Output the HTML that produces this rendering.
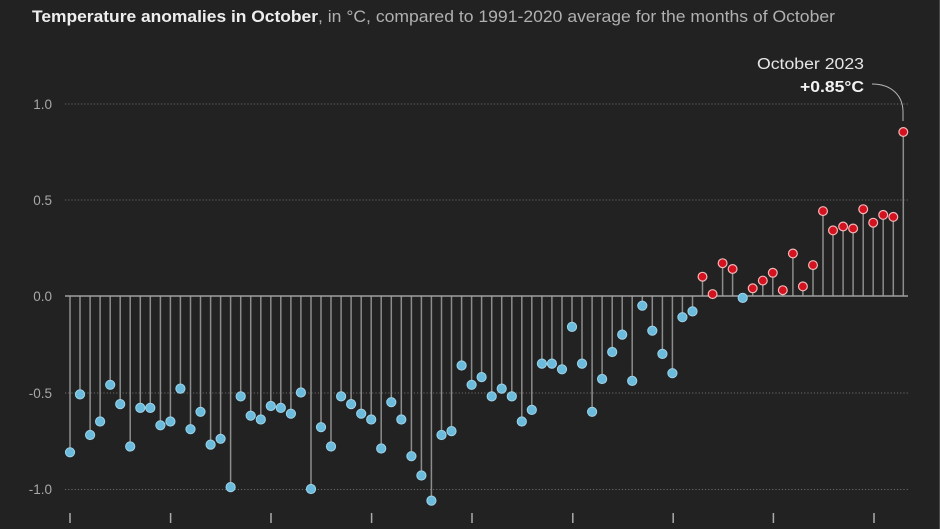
<!DOCTYPE html>
<html><head><meta charset="utf-8"><style>
html,body{margin:0;padding:0;background:#222222;}
svg{display:block;}
text{font-family:"Liberation Sans",sans-serif;}
</style></head><body>
<svg width="940" height="529" viewBox="0 0 940 529" xmlns="http://www.w3.org/2000/svg">
<defs>
<path id="bd" d="M70 452.3h0.01M80 394.4h0.01M90.1 435h0.01M100.1 421.5h0.01M110.2 384.8h0.01M120.2 404.1h0.01M130.2 446.5h0.01M140.3 407.9h0.01M150.3 407.9h0.01M160.4 425.3h0.01M170.4 421.5h0.01M180.4 388.6h0.01M190.5 429.2h0.01M200.5 411.8h0.01M210.6 444.6h0.01M220.6 438.8h0.01M230.6 487.1h0.01M240.7 396.4h0.01M250.7 415.7h0.01M260.8 419.5h0.01M270.8 406h0.01M280.8 407.9h0.01M290.9 413.7h0.01M300.9 392.5h0.01M311 489h0.01M321 427.2h0.01M331 446.5h0.01M341.1 396.4h0.01M351.1 404.1h0.01M361.2 413.7h0.01M371.2 419.5h0.01M381.2 448.5h0.01M391.3 402.2h0.01M401.3 419.5h0.01M411.4 456.2h0.01M421.4 475.5h0.01M431.4 500.6h0.01M441.5 435h0.01M451.5 431.1h0.01M461.6 365.5h0.01M471.6 384.8h0.01M481.6 377.1h0.01M491.7 396.4h0.01M501.7 388.6h0.01M511.8 396.4h0.01M521.8 421.5h0.01M531.8 409.9h0.01M541.9 363.6h0.01M551.9 363.6h0.01M562 369.3h0.01M572 326.9h0.01M582 363.6h0.01M592.1 411.8h0.01M602.1 379h0.01M612.2 352h0.01M622.2 334.6h0.01M632.2 380.9h0.01M642.3 305.7h0.01M652.3 330.7h0.01M662.4 353.9h0.01M672.4 373.2h0.01M682.4 317.2h0.01M692.5 311.4h0.01M742.7 297.9h0.01"/>
<path id="rd" d="M702.5 276.7h0.01M712.6 294.1h0.01M722.6 263.2h0.01M732.6 269h0.01M752.7 288.3h0.01M762.8 280.6h0.01M772.8 272.8h0.01M782.8 290.2h0.01M792.9 253.5h0.01M802.9 286.4h0.01M813 265.1h0.01M823 211.1h0.01M833 230.4h0.01M843.1 226.5h0.01M853.1 228.5h0.01M863.2 209.2h0.01M873.2 222.7h0.01M883.2 214.9h0.01M893.3 216.9h0.01M903.3 132h0.01"/>
</defs>
<rect width="940" height="529" fill="#222222"/>
<rect x="939" y="0" width="1" height="529" fill="#4a4a4a"/>
<text x="32" y="22" font-size="17" font-weight="bold" fill="#eeeeee" textLength="286" lengthAdjust="spacingAndGlyphs">Temperature anomalies in October</text>
<text x="318" y="22" font-size="17" fill="#b0b0b0" textLength="517" lengthAdjust="spacingAndGlyphs">, in °C, compared to 1991-2020 average for the months of October</text>
<path d="M65 104H908M65 200H908M65 393H908M65 489.5H908" stroke="#6a6a6a" stroke-width="1" stroke-dasharray="1.2,2" fill="none"/>
<g font-size="13.5" fill="#a8a8a8" text-anchor="end">
<text x="52" y="109">1.0</text>
<text x="52" y="205">0.5</text>
<text x="52" y="301">0.0</text>
<text x="52" y="398">-0.5</text>
<text x="52" y="494">-1.0</text>
</g>
<path d="M70 513v10M170.6 513v10M271 513v10M371.6 513v10M472 513v10M572.8 513v10M673.2 513v10M773.4 513v10M874 513v10" stroke="#aaaaaa" stroke-width="1.5" fill="none"/>
<path fill="none" stroke="#8c8c8c" stroke-width="1.5" d="M70 296V452.3M80 296V394.4M90.1 296V435M100.1 296V421.5M110.2 296V384.8M120.2 296V404.1M130.2 296V446.5M140.3 296V407.9M150.3 296V407.9M160.4 296V425.3M170.4 296V421.5M180.4 296V388.6M190.5 296V429.2M200.5 296V411.8M210.6 296V444.6M220.6 296V438.8M230.6 296V487.1M240.7 296V396.4M250.7 296V415.7M260.8 296V419.5M270.8 296V406M280.8 296V407.9M290.9 296V413.7M300.9 296V392.5M311 296V489M321 296V427.2M331 296V446.5M341.1 296V396.4M351.1 296V404.1M361.2 296V413.7M371.2 296V419.5M381.2 296V448.5M391.3 296V402.2M401.3 296V419.5M411.4 296V456.2M421.4 296V475.5M431.4 296V500.6M441.5 296V435M451.5 296V431.1M461.6 296V365.5M471.6 296V384.8M481.6 296V377.1M491.7 296V396.4M501.7 296V388.6M511.8 296V396.4M521.8 296V421.5M531.8 296V409.9M541.9 296V363.6M551.9 296V363.6M562 296V369.3M572 296V326.9M582 296V363.6M592.1 296V411.8M602.1 296V379M612.2 296V352M622.2 296V334.6M632.2 296V380.9M642.3 296V305.7M652.3 296V330.7M662.4 296V353.9M672.4 296V373.2M682.4 296V317.2M692.5 296V311.4M702.5 296V276.7M712.6 296V294.1M722.6 296V263.2M732.6 296V269M742.7 296V297.9M752.7 296V288.3M762.8 296V280.6M772.8 296V272.8M782.8 296V290.2M792.9 296V253.5M802.9 296V286.4M813 296V265.1M823 296V211.1M833 296V230.4M843.1 296V226.5M853.1 296V228.5M863.2 296V209.2M873.2 296V222.7M883.2 296V214.9M893.3 296V216.9M903.3 296V132"/>
<line x1="65" y1="296" x2="908" y2="296" stroke="#a0a0a0" stroke-width="1.5"/>
<use href="#bd" fill="none" stroke="#9fd3e8" stroke-width="10.2" stroke-linecap="round"/>
<use href="#bd" fill="none" stroke="#6bbcdc" stroke-width="8.2" stroke-linecap="round"/>
<use href="#rd" fill="none" stroke="#f2b8b8" stroke-width="10" stroke-linecap="round"/>
<use href="#rd" fill="none" stroke="#d4111f" stroke-width="7.6" stroke-linecap="round"/>
<text x="864" y="69" font-size="15.5" fill="#e6e6e6" text-anchor="end" textLength="107" lengthAdjust="spacingAndGlyphs">October 2023</text>
<text x="864" y="92" font-size="15.5" font-weight="bold" fill="#f2f2f2" text-anchor="end" textLength="64" lengthAdjust="spacingAndGlyphs">+0.85°C</text>
<path d="M872,84 C892,84 903,96 903,112 L903,121" fill="none" stroke="#b5b5b5" stroke-width="1"/>
</svg>
</body></html>
